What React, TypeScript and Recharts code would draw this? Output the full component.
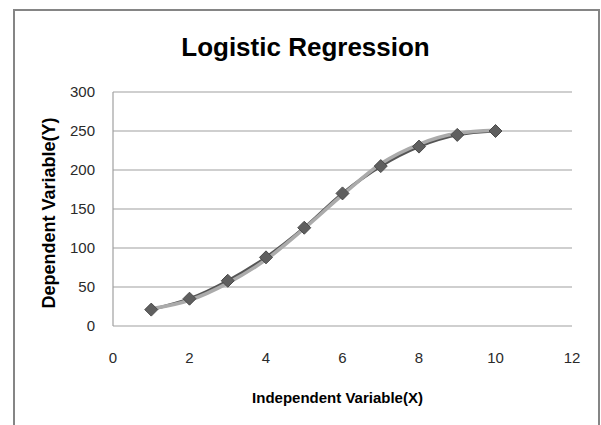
import { LineChart, CartesianGrid, XAxis, YAxis, Line, Label } from "recharts";

const xValues = [1, 2, 3, 4, 5, 6, 7, 8, 9, 10];
const observedY = [21, 35, 58, 88, 126, 170, 205, 230, 245, 250];
const fittedY = [22, 33, 55, 85, 125, 168, 208, 233, 247, 251];
const xTicks = [0, 2, 4, 6, 8, 10, 12];
const yTicks = [0, 50, 100, 150, 200, 250, 300];

const data = xValues.map((x, i) => ({ x, observed: observedY[i], fitted: fittedY[i] }));

const Diamond = (props: any) => {
  const { cx, cy, index } = props;
  if (cx == null || cy == null) return <g key={index} />;
  const r = 6.5;
  return (
    <path
      key={index}
      d={`M${cx},${cy - r}L${cx + r},${cy}L${cx},${cy + r}L${cx - r},${cy}Z`}
      fill="#5f5f5f"
      stroke="#4a4a4a"
      strokeWidth={1}
    />
  );
};

const tickStyle = { fontFamily: "Liberation Sans", fontSize: 15, fill: "#2a2a2a" };

const App = () => {
  return (
    <div style={{ position: "absolute", left: 0, top: 0, width: 601, height: 425, overflow: "hidden", background: "#fff" }}>
      <div
        style={{
          position: "absolute",
          left: 13,
          top: 9,
          width: 583,
          height: 440,
          border: "2px solid #858585",
        }}
      />
      <div
        style={{
          position: "absolute",
          left: 0,
          width: 611,
          top: 31,
          textAlign: "center",
          fontFamily: "Liberation Sans",
          fontWeight: "bold",
          fontSize: 26,
          lineHeight: "32px",
          color: "#000",
        }}
      >
        Logistic Regression
      </div>
      <div style={{ position: "absolute", left: 0, top: 0 }}>
        <LineChart width={601} height={425} data={data} margin={{ top: 92, right: 29, bottom: 0, left: 0 }}>
          <CartesianGrid horizontal vertical={false} stroke="#a0a0a0" strokeWidth={1.2} />
          <XAxis
            dataKey="x"
            type="number"
            domain={[0, 12]}
            ticks={xTicks}
            height={99}
            axisLine={false}
            tickLine={false}
            tickSize={0}
            tickMargin={26}
            tick={tickStyle}
          >
            <Label
              value="Independent Variable(X)"
              position="insideBottom"
              offset={22}
              dx={-5}
              style={{ fontFamily: "Liberation Sans", fontWeight: "bold", fontSize: 15, fill: "#000" }}
            />
          </XAxis>
          <YAxis
            type="number"
            domain={[0, 300]}
            ticks={yTicks}
            width={113}
            axisLine={{ stroke: "#a0a0a0", strokeWidth: 1.2 }}
            tickLine={false}
            tickSize={0}
            tickMargin={18}
            tick={tickStyle}
          >
            <Label
              value="Dependent Variable(Y)"
              position="center"
              angle={-90}
              dx={-8}
              dy={4}
              style={{ fontFamily: "Liberation Sans", fontWeight: "bold", fontSize: 18, fill: "#000", textAnchor: "middle" }}
            />
          </YAxis>
          <Line
            type="monotone"
            dataKey="observed"
            stroke="#555555"
            strokeWidth={3}
            dot={Diamond}
            activeDot={false}
            isAnimationActive={false}
          />
          <Line
            type="monotone"
            dataKey="fitted"
            stroke="#ababab"
            strokeWidth={3.5}
            dot={false}
            activeDot={false}
            isAnimationActive={false}
          />
        </LineChart>
      </div>
    </div>
  );
};

export default App;
